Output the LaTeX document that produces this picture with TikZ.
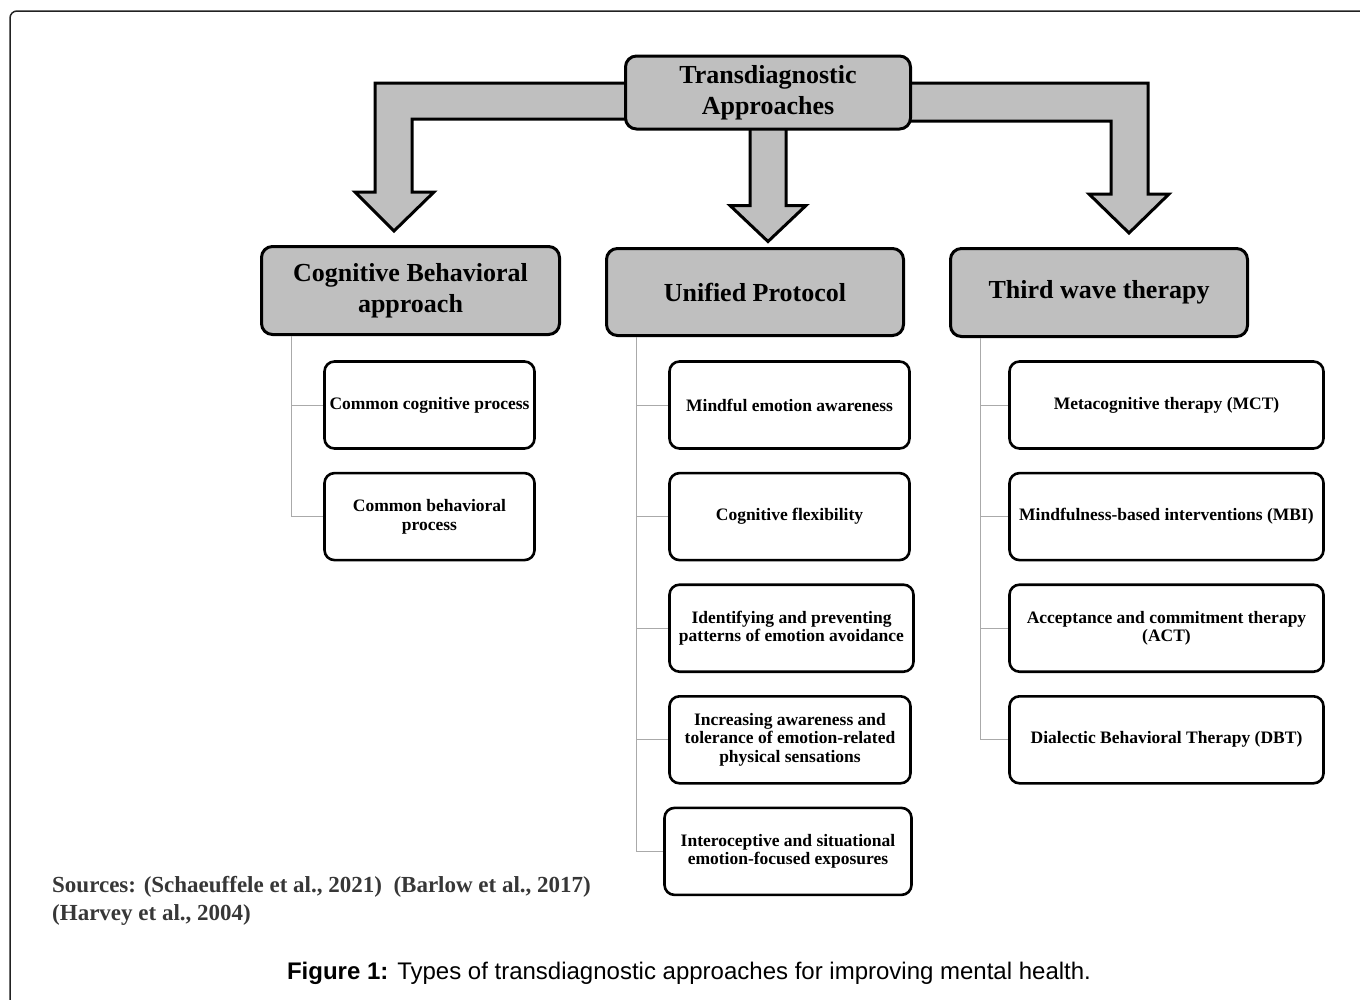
\documentclass[tikz,border=0pt]{standalone}
\usepackage{fontspec}
\setmainfont{Liberation Serif}
\newfontfamily\capfont{Liberation Sans}
\usetikzlibrary{positioning,backgrounds}
\definecolor{boxgray}{RGB}{191,191,191}
\definecolor{linkgray}{RGB}{170,170,170}
\definecolor{srcgray}{RGB}{55,55,55}
\definecolor{framegray}{RGB}{34,34,34}

\begin{document}
\begin{tikzpicture}[x=1pt, y=-1pt, node distance={22pt},
    head/.style = {draw, rectangle, rounded corners=11pt, fill=boxgray, line width=3pt, align=center, font=\bfseries\fontsize{26}{30.5}\selectfont},
    sub/.style = {draw, rectangle, rounded corners=10pt, fill=white, line width=2.6pt, align=center, minimum height=87pt, inner sep=2pt, font=\bfseries\fontsize{17.5}{18.7}\selectfont},
    fat/.style = {draw, fill=boxgray, line width=3pt, line join=miter},
    link/.style = {draw=linkgray, line width=1pt}
    ]
\useasboundingbox (0,0) rectangle (1360,999);
\draw[framegray, line width=1.5pt, rounded corners=7pt] (10,11) rectangle (1420,1060);

\node[head, minimum width=285pt, minimum height=73pt] (tda) at (768,92.5) {Transdiagnostic\\Approaches};
\node[head, minimum width=298pt, minimum height=88pt] (cbt) at (410.5,290.5) {Cognitive Behavioral\\approach};
\node[head, minimum width=297pt, minimum height=87pt] (up) at (755,292) {Unified Protocol};
\node[head, minimum width=297pt, minimum height=88pt] (twt) at (1099,292.5) {Third wave therapy};

\node[sub, minimum width=210pt] (cbt1) at (429.5,405) {Common cognitive process};
\node[sub, minimum width=210pt] (cbt2) [below=of cbt1] {Common behavioral\\process};

\node[sub, minimum width=240pt] (up1) at (789.5,405) {Mindful emotion awareness};
\node[sub, minimum width=240pt] (up2) [below=of up1] {Cognitive flexibility};
\node[sub, minimum width=244pt] (up3) [below=of up2, xshift=2pt] {Identifying and preventing\\patterns of emotion avoidance};
\node[sub, minimum width=241pt] (up4) [below=of up3, xshift=-1.5pt] {Increasing awareness and\\tolerance of emotion-related\\physical sensations};
\node[sub, minimum width=247pt] (up5) [below=of up4, xshift=-2pt] {Interoceptive and situational\\emotion-focused exposures};

\node[sub, minimum width=314pt] (tw1) at (1166.5,405) {Metacognitive therapy (MCT)};
\node[sub, minimum width=314pt] (tw2) [below=of tw1] {Mindfulness-based interventions (MBI)};
\node[sub, minimum width=314pt] (tw3) [below=of tw2] {Acceptance and commitment therapy\\(ACT)};
\node[sub, minimum width=314pt] (tw4) [below=of tw3] {Dialectic Behavioral Therapy (DBT)};

% block arrows behind the boxes
\begin{scope}[on background layer]
\draw[fat] ([xshift=10pt,yshift=9.5pt]tda.west) -- ++(-259,0) -- ++(0,109) -- ++(-20,0) -- ++(39,39) -- ++(40,-39) -- ++(-22,0) -- ++(0,-73) -- ++(222,0) -- cycle;
\draw[fat] ([xshift=-18pt,yshift=10pt]tda.south) -- ++(0,85) -- ++(-20,0) -- ++(38,36) -- ++(38,-36) -- ++(-20,0) -- ++(0,-85) -- cycle;
\draw[fat] ([xshift=-10pt,yshift=9.5pt]tda.east) -- ++(246,0) -- ++(0,111) -- ++(21,0) -- ++(-40,39) -- ++(-40,-39) -- ++(22,0) -- ++(0,-73) -- ++(-209,0) -- cycle;
\end{scope}

\draw[link] ([xshift=31pt]cbt.south west) |- (cbt1.west);
\draw[link] ([xshift=31pt]cbt.south west) |- (cbt2.west);

\draw[link] ([xshift=31pt]up.south west) |- (up1.west);
\draw[link] ([xshift=31pt]up.south west) |- (up2.west);
\draw[link] ([xshift=31pt]up.south west) |- (up3.west);
\draw[link] ([xshift=31pt]up.south west) |- (up4.west);
\draw[link] ([xshift=31pt]up.south west) |- (up5.west);

\draw[link] ([xshift=31pt]twt.south west) |- (tw1.west);
\draw[link] ([xshift=31pt]twt.south west) |- (tw2.west);
\draw[link] ([xshift=31pt]twt.south west) |- (tw3.west);
\draw[link] ([xshift=31pt]twt.south west) |- (tw4.west);

\node[anchor=west, align=left, inner sep=0pt, text=srcgray, font=\bfseries\fontsize{23}{28}\selectfont] (srcs) at (52,901) {Sources: (Schaeuffele et al., 2021)\ \ (Barlow et al., 2017)\\(Harvey et al., 2004)};
\node[font=\capfont\fontsize{24}{28}\selectfont] (cap) at (689,973) {\textbf{Figure 1:} Types of transdiagnostic approaches for improving mental health.};

\end{tikzpicture}
\end{document}
